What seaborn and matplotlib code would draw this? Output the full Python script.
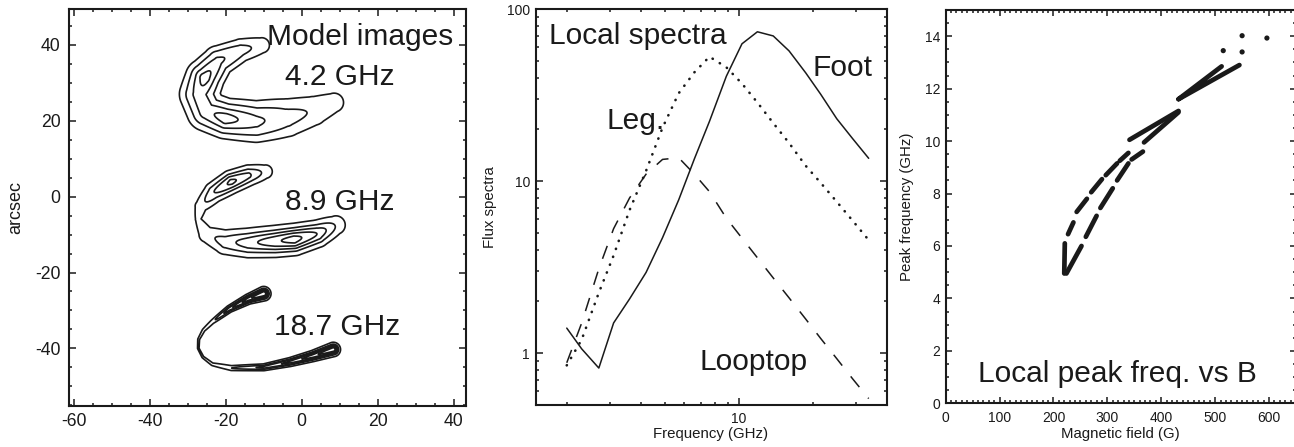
import numpy as np
import pandas as pd
import matplotlib
matplotlib.use("Agg")
import matplotlib.pyplot as plt
import seaborn as sns
from matplotlib.ticker import MultipleLocator, LogLocator, NullFormatter, FuncFormatter

nan = np.nan

# ---------------- Panel 1: model images (ridge line, brightness, width) ----------------
img42_x = [-10.5, -16.0, -22.0, -25.5, -27.0, -25.0, -20.0, -12.0, -4.0, 3.0, 8.5]
img42_y = [39.9, 38.6, 35.7, 31.3, 27.0, 22.5, 20.6, 19.8, 20.8, 22.6, 24.8]
img42_i = [0.2, 0.4, 0.68, 1.0, 0.72, 0.78, 1.0, 0.68, 0.4, 0.27, 0.18]
img42_w = [1.7, 1.8, 2.1, 2.4, 2.6, 2.6, 2.5, 2.8, 3.0, 2.7, 2.3]
lev42 = [0.1, 0.3, 0.6, 0.87]

img89_x = [-9.5, -14.0, -18.5, -23.0, -26.5, -27.3, -25.0, -20.0, -14.0, -7.0, -2.0, 4.0, 9.0]
img89_y = [6.6, 5.6, 3.9, 1.2, -2.5, -6.0, -10.0, -12.0, -12.2, -11.8, -11.3, -9.8, -7.5]
img89_i = [0.22, 0.55, 0.76, 0.5, 0.2, 0.12, 0.22, 0.4, 0.62, 0.85, 1.0, 0.7, 0.28]
img89_w = [1.4, 1.5, 1.55, 1.5, 1.3, 1.1, 1.6, 1.95, 2.05, 2.05, 2.0, 1.85, 1.7]
lev89 = [0.1, 0.3, 0.5, 0.7, 0.9]

img187_x = [-10.0, -14.0, -19.0, -23.5, -25.8, -27.1, -27.2, -26.0, -23.5, -18.5, -10.0, -3.0, 3.0, 8.3]
img187_y = [-25.6, -27.0, -29.6, -33.0, -35.2, -37.6, -40.0, -42.3, -44.2, -45.2, -45.0, -43.6, -42.0, -40.3]
img187_i = [1.0, 0.75, 0.45, 0.15, 0.09, 0.07, 0.065, 0.07, 0.09, 0.2, 0.4, 0.55, 0.75, 0.95]
img187_w = [0.8, 0.6, 0.45, 0.35, 0.35, 0.35, 0.35, 0.35, 0.35, 0.4, 0.45, 0.55, 0.65, 0.8]
lev187 = [0.055, 0.2, 0.35, 0.5, 0.65, 0.8]

img_labels = ["4.2 GHz", "8.9 GHz", "18.7 GHz"]

# ---------------- Panel 2: local spectra ----------------
freq = [2.0, 2.3, 2.7, 3.1, 3.6, 4.2, 4.9, 5.7, 6.6, 7.6, 8.9, 10.3, 11.9, 13.8, 16.0, 18.7, 21.5, 25.0, 29.0, 33.7]
flux_foot = [1.40, 1.06, 0.82, 1.50, 2.07, 2.95, 4.7, 7.8, 13.5, 22.3, 40.8, 63.0, 74.0, 70.0, 57.3, 42.7, 32.1, 23.1, 17.7, 13.6]
flux_leg = [0.85, 1.2, 2.25, 3.7, 6.8, 11.5, 20.5, 32.5, 43.0, 53.0, 46.0, 37.0, 28.7, 21.8, 16.7, 12.3, 9.8, 7.6, 5.9, 4.55]
flux_looptop = [0.88, 1.5, 3.1, 5.3, 8.0, 11.0, 13.4, 13.7, 11.0, 8.7, 6.1, 4.67, 3.59, 2.74, 2.10, 1.58, 1.22, 0.93, 0.71, 0.545]

# ---------------- Panel 3: local peak frequency vs B ----------------
branch1_B = [220, 221, nan, 227, 237, nan, 243, 262, nan, 270, 290, nan, 297, 318, nan, 323, 339, nan, 341, 432]
branch1_f = [4.95, 6.1, nan, 6.45, 6.9, nan, 7.3, 7.8, nan, 8.05, 8.55, nan, 8.7, 9.15, nan, 9.25, 9.55, nan, 10.05, 11.15]
branch2_B = [224, 252, nan, 260, 280, nan, 287, 310, nan, 318, 339, nan, 345, 366, nan, 368, 432]
branch2_f = [4.95, 6.0, nan, 6.35, 7.15, nan, 7.45, 8.2, nan, 8.5, 9.15, nan, 9.3, 9.6, nan, 9.95, 11.1]
branch3_B = [432, 512, nan, 432, 545]
branch3_f = [11.6, 12.85, nan, 11.6, 12.9]
single_B = [515, 550, 550, 596]
single_f = [13.45, 13.4, 14.02, 13.93]

# ---------------- style ----------------
sns.set_theme(style="ticks")
plt.rcParams["font.family"] = ["Liberation Sans", "DejaVu Sans"]
plt.rcParams["axes.linewidth"] = 1.5
plt.rcParams["axes.edgecolor"] = "k"
plt.rcParams["text.color"] = "k"
plt.rcParams["axes.labelcolor"] = "k"
plt.rcParams["axes.unicode_minus"] = False

W, H = 1294, 447
fig = plt.figure(figsize=(W / 100, H / 100), dpi=100)
ax1 = fig.add_axes([69 / W, 1 - 406 / H, 397 / W, 396.7 / H])
ax2 = fig.add_axes([536 / W, 1 - 405 / H, 351 / W, 395.7 / H])
ax3 = fig.add_axes([945.7 / W, 1 - 403.3 / H, 350.3 / W, 393.3 / H])


def style_axes(ax, lsize, maj, mnr, padx, pady):
    ax.tick_params(which="both", direction="in", top=True, right=True, width=1.1,
                   color="k", labelcolor="k")
    ax.tick_params(which="major", length=maj)
    ax.tick_params(which="minor", length=mnr)
    ax.tick_params(axis="x", which="both", labelsize=lsize, pad=padx)
    ax.tick_params(axis="y", which="both", labelsize=lsize, pad=pady)
    for s in ax.spines.values():
        s.set_visible(True)
        s.set_linewidth(1.5)
        s.set_color("k")


# ---------------- Panel 1 ----------------
xlim1, ylim1 = (-61.2, 43.2), (-55.2, 49.4)
gx = np.linspace(xlim1[0], xlim1[1], 800)
gy = np.linspace(ylim1[0], ylim1[1], 800)
GX, GY = np.meshgrid(gx, gy)


def ridge_field(xs, ys, ii, ww):
    field = np.zeros_like(GX)
    for k in range(len(xs) - 1):
        x0, y0, x1, y1 = xs[k], ys[k], xs[k + 1], ys[k + 1]
        dx, dy = x1 - x0, y1 - y0
        t = np.clip(((GX - x0) * dx + (GY - y0) * dy) / (dx * dx + dy * dy), 0, 1)
        d2 = (GX - x0 - t * dx) ** 2 + (GY - y0 - t * dy) ** 2
        inten = ii[k] + t * (ii[k + 1] - ii[k])
        w = ww[k] + t * (ww[k + 1] - ww[k])
        field = np.maximum(field, inten * np.exp(-0.5 * d2 / w ** 2))
    return field


for xs, ys, ii, ww, lv in [(img42_x, img42_y, img42_i, img42_w, lev42),
                           (img89_x, img89_y, img89_i, img89_w, lev89),
                           (img187_x, img187_y, img187_i, img187_w, lev187)]:
    ax1.contour(GX, GY, ridge_field(xs, ys, ii, ww), levels=lv, colors="k", linewidths=1.2)

ax1.set_xlim(*xlim1)
ax1.set_ylim(*ylim1)
ax1.xaxis.set_major_locator(MultipleLocator(20))
ax1.xaxis.set_minor_locator(MultipleLocator(5))
ax1.yaxis.set_major_locator(MultipleLocator(20))
ax1.yaxis.set_minor_locator(MultipleLocator(5))
style_axes(ax1, 12.7, 5, 2.5, 5.3, 6.0)
ax1.set_ylabel("arcsec", fontsize=13)
ax1.yaxis.set_label_coords(-0.112, 0.5)
big = 21.5
ax1.text(-9.1, 40.0, "Model images", fontsize=big, ha="left", va="baseline")
ax1.text(-4.3, 29.4, img_labels[0], fontsize=big, ha="left", va="baseline")
ax1.text(-4.3, -3.5, img_labels[1], fontsize=big, ha="left", va="baseline")
ax1.text(-7.3, -36.5, img_labels[2], fontsize=big, ha="left", va="baseline")

# ---------------- Panel 2 ----------------
sns.lineplot(x=freq, y=flux_foot, ax=ax2, color="k", lw=1.1, sort=False, estimator=None)
sns.lineplot(x=freq, y=flux_leg, ax=ax2, color="k", lw=1.9, sort=False, estimator=None,
             dashes=False, linestyle=(0, (0.1, 3.1)), dash_capstyle="round")
sns.lineplot(x=freq, y=flux_looptop, ax=ax2, color="k", lw=1.1, sort=False, estimator=None,
             linestyle=(0, (9, 9)))
ax2.set_xscale("log")
ax2.set_yscale("log")
ax2.set_xlim(1.5, 40)
ax2.set_ylim(0.5, 100)
fmt = FuncFormatter(lambda v, p: f"{v:g}")
for axis in (ax2.xaxis, ax2.yaxis):
    axis.set_major_locator(LogLocator(base=10))
    axis.set_minor_locator(LogLocator(base=10, subs=np.arange(2, 10)))
    axis.set_major_formatter(fmt)
    axis.set_minor_formatter(NullFormatter())
style_axes(ax2, 10, 5, 2.5, 5.3, 4.3)
ax2.set_xlabel("Frequency (GHz)", fontsize=10.8)
ax2.set_ylabel("Flux spectra", fontsize=10.8)
ax2.xaxis.set_label_coords(0.498, -0.056)
ax2.yaxis.set_label_coords(-0.111, 0.5)
ax2.text(1.69, 62.6, "Local spectra", fontsize=big, ha="left", va="baseline")
ax2.text(19.9, 40.9, "Foot", fontsize=big, ha="left", va="baseline")
ax2.text(2.91, 20.0, "Leg.", fontsize=big, ha="left", va="baseline")
ax2.text(6.95, 0.80, "Looptop", fontsize=big, ha="left", va="baseline")

# ---------------- Panel 3 ----------------
for bx, bf in [(branch1_B, branch1_f), (branch2_B, branch2_f), (branch3_B, branch3_f)]:
    ax3.plot(bx, bf, color="k", lw=3.4, solid_capstyle="round")
sns.scatterplot(x=single_B, y=single_f, ax=ax3, color="k", s=14, edgecolor="none")
ax3.set_xlim(0, 650)
ax3.set_ylim(0, 15)
ax3.xaxis.set_major_locator(MultipleLocator(100))
ax3.xaxis.set_minor_locator(MultipleLocator(10))
ax3.yaxis.set_major_locator(MultipleLocator(2))
ax3.yaxis.set_minor_locator(MultipleLocator(0.5))
style_axes(ax3, 10, 4.5, 2.3, 5.3, 4.0)
ax3.set_xlabel("Magnetic field (G)", fontsize=10.8)
ax3.set_ylabel("Peak frequency (GHz)", fontsize=10.8)
ax3.xaxis.set_label_coords(0.5, -0.060)
ax3.yaxis.set_label_coords(-0.0905, 0.5)
ax3.text(60.5, 0.82, "Local peak freq. vs B", fontsize=big, ha="left", va="baseline")

fig.savefig("out.png", dpi=100)
